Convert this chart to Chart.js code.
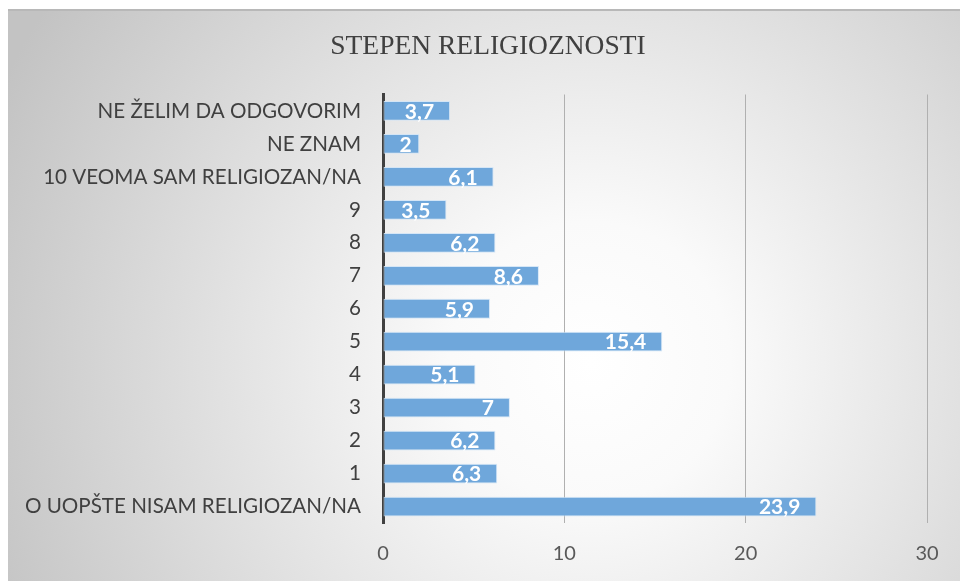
<!DOCTYPE html>
<html>
<head>
<meta charset="utf-8">
<script src="https://cdn.jsdelivr.net/npm/chart.js@4/dist/chart.umd.min.js"></script>
<style>
  html, body { margin: 0; padding: 0; background: #fff; }
  body { width: 960px; height: 581px; position: relative; overflow: hidden; }
  #box {
    position: absolute; left: 8px; top: 9px; width: 952px; height: 572px;
    border-top: 2px solid #b8b8b8;
    background: radial-gradient(circle at 582px 351px, #ffffff 0px, #fafafa 140px, #c3c3c3 650px);
  }
  #relChart { position: absolute; left: 0; top: 0; }
</style>
</head>
<body>
<div id="box"><canvas id="relChart" width="952" height="570"></canvas></div>
<script>
const categories = [
  'NE ŽELIM DA ODGOVORIM',
  'NE ZNAM',
  '10 VEOMA SAM RELIGIOZAN/NA',
  '9', '8', '7', '6', '5', '4', '3', '2', '1',
  'O UOPŠTE NISAM RELIGIOZAN/NA'
];
const percentages = [3.7, 2, 6.1, 3.5, 6.2, 8.6, 5.9, 15.4, 5.1, 7, 6.2, 6.3, 23.9];
const xTicks = [0, 10, 20, 30];

// labels drawn inside the bar end, white bold, decimal comma
const insideEndLabels = {
  id: 'insideEndLabels',
  afterLayout(chart) {
    // centre the title over the whole box, not just up to the plot's right edge
    if (chart.titleBlock) chart.titleBlock.left = 41;
  },
  afterDatasetsDraw(chart) {
    const ctx = chart.ctx;
    const meta = chart.getDatasetMeta(0);
    ctx.save();
    ctx.font = 'bold 21px Lato';
    ctx.fillStyle = '#ffffff';
    ctx.textBaseline = 'middle';
    ctx.textAlign = 'left';
    meta.data.forEach((bar, i) => {
      const txt = String(percentages[i]).replace('.', ',');
      const w = ctx.measureText(txt).width;
      const left = Math.max(bar.base + 16, bar.x - 16 - w);
      ctx.fillText(txt, left, bar.y + 1);
    });
    ctx.restore();
  }
};

new Chart(document.getElementById('relChart').getContext('2d'), {
  type: 'bar',
  data: {
    labels: categories,
    datasets: [{
      data: percentages,
      backgroundColor: '#6fa7db',
      borderColor: 'rgba(210,228,246,0.9)',
      borderWidth: 1,
      borderSkipped: false,
      categoryPercentage: 1,
      barPercentage: 0.6
    }]
  },
  options: {
    indexAxis: 'y',
    responsive: false,
    animation: false,
    layout: { padding: { left: 0, right: 33, top: 0, bottom: 0 } },
    plugins: {
      legend: { display: false },
      tooltip: { enabled: false },
      title: {
        display: true,
        text: 'STEPEN RELIGIOZNOSTI',
        color: '#404040',
        font: { family: 'Liberation Serif', size: 27.5, weight: 'normal' },
        padding: { top: 19, bottom: 31.5 }
      }
    },
    scales: {
      x: {
        min: 0,
        max: 30,
        afterBuildTicks: (scale) => { scale.ticks = xTicks.map(v => ({ value: v })); },
        afterFit: (scale) => { scale.height = 58; },
        grid: { color: '#b0b0b0', lineWidth: 1, drawTicks: false },
        border: { display: false },
        ticks: { color: '#595959', font: { family: 'Lato', size: 20 }, padding: 19 }
      },
      y: {
        afterFit: (scale) => { scale.width = 375; },
        grid: { display: false, drawTicks: false },
        border: { color: '#404040', width: 3 },
        ticks: { color: '#404040', font: { family: 'Lato', size: 20.6 }, padding: 22 }
      }
    }
  },
  plugins: [insideEndLabels]
});
</script>
</body>
</html>
